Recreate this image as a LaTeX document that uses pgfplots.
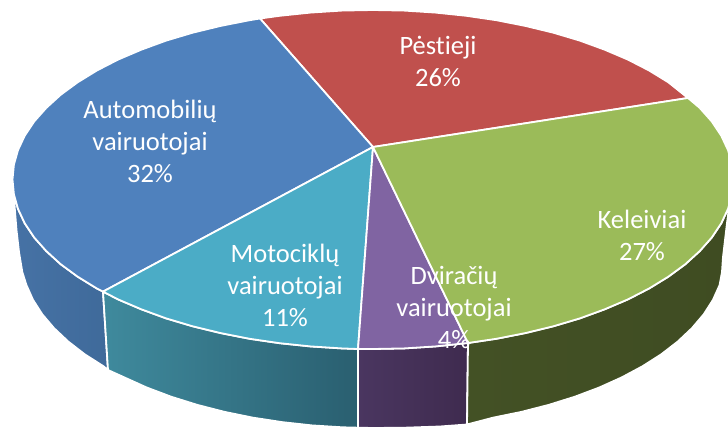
\documentclass[border=0pt]{standalone}
\usepackage{fontspec}
\setmainfont{Carlito}[Ligatures=NoCommon]
\usepackage{pgfplots}
\pgfplotsset{compat=1.18}
\definecolor{pBlue}{HTML}{4F81BD}
\definecolor{pRed}{HTML}{C0504D}
\definecolor{pGreen}{HTML}{9BBB59}
\definecolor{pPurple}{HTML}{8064A2}
\definecolor{pTeal}{HTML}{4BACC6}
\definecolor{wBlueA}{HTML}{4672A5}
\definecolor{wBlueB}{HTML}{3F6A9A}
\definecolor{wTealA}{HTML}{3F8A9D}
\definecolor{wTealB}{HTML}{2A5F70}
\definecolor{wPurpleA}{HTML}{4A3660}
\definecolor{wPurpleB}{HTML}{3F2B4F}
\definecolor{wGreenA}{HTML}{435125}
\definecolor{wGreenB}{HTML}{3F4C22}
\tikzset{
  slice/.style={draw=white, line width=1.8pt, line join=round},
  lab/.style={text=white, align=center, font=\fontsize{26.5}{32}\selectfont},
}
\begin{document}
\begin{tikzpicture}
\begin{axis}[
  scale only axis, width=728pt, height=430pt,
  xmin=0, xmax=728, ymin=0, ymax=430,
  y dir=reverse,
  hide axis,
]
% keeps the page as large as the whole axis box
\addplot[draw=none] coordinates {(0,0)(728,430)};
% side walls
\addplot[slice, left color=wBlueA, right color=wBlueB] coordinates {
  (13.9,194.3)(18.0,208.9)(24.8,223.4)(34.2,237.5)(46.3,251.1)(60.8,264.3)(77.7,276.7)(96.9,288.5)(103,291.6)
  (108,370)(103.4,366.2)(84.6,354.2)(68.2,341.5)(54,328.1)(42.2,314.2)(33,299.8)(26.4,285)(22.3,272)(19,252)(16.5,230)(14.5,205)
} --cycle;
\addplot[slice, left color=wTealA, right color=wTealB] coordinates {
  (103,291.6)(118.1,299.4)(141.3,309.3)(166.2,318.4)(192.7,326.3)(220.7,333.1)(249.7,338.8)(279.7,343.2)(310.4,346.4)(341.6,348.4)(358,349)
  (358,427.7)(342.3,427.3)(311.9,425.4)(281.9,422.1)(252.6,417.6)(224.2,411.8)(197,404.8)(171.1,396.7)(146.7,387.5)(124.1,377.3)(108,370)
} --cycle;
\addplot[slice, left color=wPurpleA, right color=wPurpleB] coordinates {
  (358,349)(373,349)(404.4,348.4)(435.6,346.4)(468,343)
  (467,424.5)(440,426.5)(405,427.7)(373,428)(358,427.7)
} --cycle;
\addplot[slice, left color=wGreenA, right color=wGreenB] coordinates {
  (468,343)(496.3,338.8)(525.3,333.1)(553.3,326.3)(579.8,318.4)(604.7,309.3)(627.9,299.4)(649.1,288.5)(668.3,276.7)(685.2,264.3)(699.7,251.1)(711.8,237.5)(721.2,223.4)(728,208.9)(732.1,194.3)
  (731,200)(729,208)(727,223)(725,240)(723,257)(722,272)(719.6,285)(713,299.8)(703.8,314.2)(692,328.1)(677.8,341.5)(661.4,354.2)(642.6,366.2)(621.9,377.3)(599.3,387.5)(574.9,396.7)(549,404.8)(521.8,411.8)(493.4,417.6)(467,424.5)
} --cycle;
% top surface
\addplot[slice, fill=pRed] coordinates {
  (373,147)(260,18.5)(279.7,15.8)(310.4,12.6)(341.6,10.6)(373,10)(404.4,10.6)(435.6,12.6)(466.3,15.8)(496.3,20.2)(525.3,25.9)(553.3,32.7)(579.8,40.6)(604.7,49.7)(627.9,59.6)(649.1,70.5)(668.3,82.3)(688,98)
} --cycle;
\addplot[slice, fill=pBlue] coordinates {
  (373,147)(103,291.6)(96.9,288.5)(77.7,276.7)(60.8,264.3)(46.3,251.1)(34.2,237.5)(24.8,223.4)(18.0,208.9)(13.9,194.3)(12.5,179.5)(13.9,164.7)(18.0,150.1)(24.8,135.6)(34.2,121.5)(46.3,107.9)(60.8,94.7)(77.7,82.3)(96.9,70.5)(118.1,59.6)(141.3,49.7)(166.2,40.6)(192.7,32.7)(220.7,25.9)(249.7,20.2)(260,18.5)
} --cycle;
\addplot[slice, fill=pTeal] coordinates {
  (373,147)(358,349)(341.6,348.4)(310.4,346.4)(279.7,343.2)(249.7,338.8)(220.7,333.1)(192.7,326.3)(166.2,318.4)(141.3,309.3)(118.1,299.4)(103,291.6)
} --cycle;
\addplot[slice, fill=pPurple] coordinates {
  (373,147)(468,343)(435.6,346.4)(404.4,348.4)(373,349)(358,349)
} --cycle;
\addplot[slice, fill=pGreen] coordinates {
  (373,147)(688,98)(699.7,107.9)(711.8,121.5)(721.2,135.6)(728,150.1)(732.1,164.7)(733.5,179.5)(732.1,194.3)(728,208.9)(721.2,223.4)(711.8,237.5)(699.7,251.1)(685.2,264.3)(668.3,276.7)(649.1,288.5)(627.9,299.4)(604.7,309.3)(579.8,318.4)(553.3,326.3)(525.3,333.1)(496.3,338.8)(468,343)
} --cycle;
% labels
\node[lab] at (axis cs:438,61) {Pėstieji\\26\%};
\node[lab] at (axis cs:150,141) {Automobilių\\vairuotojai\\32\%};
\node[lab] at (axis cs:285,285) {Motociklų\\vairuotojai\\11\%};
\node[lab] at (axis cs:454,307) {Dviračių\\vairuotojai\\4\%};
\node[lab] at (axis cs:642,235) {Keleiviai\\27\%};
\end{axis}
\end{tikzpicture}
\end{document}
